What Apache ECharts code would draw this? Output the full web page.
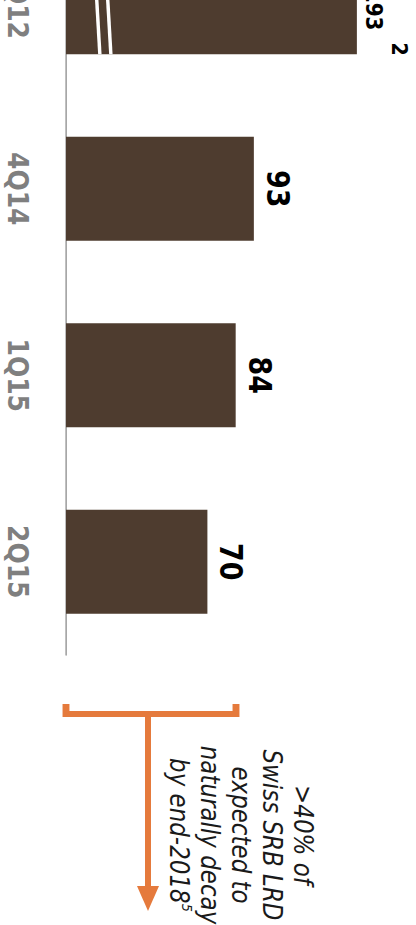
<!DOCTYPE html>
<html>
<head>
<meta charset="utf-8">
<title>Swiss SRB LRD</title>
<script src="https://cdn.jsdelivr.net/npm/echarts@6/dist/echarts.min.js"></script>
<style>
    html, body { margin: 0; padding: 0; background: #fff; overflow: hidden; }
    body { width: 416px; height: 925px; position: relative; }
    #chart { position: absolute; left: 0; top: -91px; height: 1016px; transform-origin: 0 0; }
</style>
</head>
<body>
<div id="chart"></div>
<script>
// data
const categories = [ '4Q12', '4Q14', '1Q15', '2Q15' ];
// bar lengths as drawn; 4Q12 sits on a broken scale so it is shorter than its label
const barValues = [ 144, 93, 84, 70 ];
const valueLabels = [ '193', '93', '84', '70' ];
const footnotes = [ '2', '', '', '' ];
const breakCategories = [ '4Q12' ];
const breakValues = [ 18 ];
const noteLines = [ '>40% of', 'Swiss SRB LRD', 'expected to', 'naturally decay', 'by end-2018' ];
const noteFootnote = '5';

// the slide is stretched a bit across, and its top is cut off
const SX = 1.15;
const TOP_CROP = 91;
const FONT = '"DejaVu Sans", Verdana, sans-serif';
const ORANGE = '#E57A3C';
const ix = x => x / SX;
const iy = y => y + TOP_CROP;

const chartContext = {
    draw() {
        const el = document.getElementById( 'chart' );
        el.style.width = ( 416 / SX ) + 'px';
        el.style.transform = 'scaleX(' + SX + ')';
        const chart = echarts.init( el, null, { renderer: 'svg' } );

        const option = {
            animation: false,
            grid: { left: ix( 66 ), top: 0, width: ix( 160 * 2.02 ), height: 746 },
            xAxis: { type: 'value', min: 0, max: 160, show: false },
            yAxis: {
                type: 'category',
                data: categories,
                inverse: true,
                axisLine: { show: true, lineStyle: { color: '#9a9a9a', width: 1.3 } },
                axisTick: { show: false },
                axisLabel: {
                    rotate: -90, margin: 29, color: '#7f7f7f',
                    fontFamily: FONT, fontWeight: 'bold', fontSize: 25, lineHeight: 25
                }
            },
            series: [
                {
                    type: 'bar',
                    data: barValues,
                    barWidth: 104,
                    itemStyle: { color: '#4E3C2F' },
                    label: {
                        show: true, position: 'right', distance: 4.5, rotate: -90,
                        align: 'center', verticalAlign: 'bottom',
                        formatter: p => footnotes[p.dataIndex]
                            ? '{v|' + valueLabels[p.dataIndex] + '}{s|' + footnotes[p.dataIndex] + '}'
                            : '{n|' + valueLabels[p.dataIndex] + '}',
                        rich: {
                            n: { fontFamily: FONT, fontWeight: 'bold', fontSize: 27, lineHeight: 32, color: '#000' },
                            v: { fontFamily: FONT, fontWeight: 'bold', fontSize: 20, lineHeight: 42, color: '#000', verticalAlign: 'bottom', padding: [ 0, 0, 0, 40 ] },
                            s: { fontFamily: FONT, fontWeight: 'bold', fontSize: 19, lineHeight: 14, color: '#000', verticalAlign: 'top', padding: [ 0, 0, 0, 12 ] }
                        }
                    }
                },
                {
                    // scale break marks on the long bar
                    type: 'custom',
                    data: breakCategories.map( ( c, i ) => [ breakValues[i], c ] ),
                    encode: { x: 0, y: 1 },
                    z: 5,
                    renderItem( params, api ) {
                        const p = api.coord( [ api.value( 0 ), api.value( 1 ) ] );
                        const h = 104;
                        return {
                            type: 'group',
                            children: [ -5.5, 5.5 ].map( off => ( {
                                type: 'line',
                                shape: {
                                    x1: p[0] + ix( off - 3 ), y1: p[1] - h / 2,
                                    x2: p[0] + ix( off + 3 ), y2: p[1] + h / 2
                                },
                                style: { stroke: '#fff', lineWidth: 3 }
                            } ) )
                        };
                    }
                }
            ],
            graphic: [
                {
                    type: 'polyline',
                    shape: { points: [ [ ix( 66 ), iy( 704 ) ], [ ix( 66 ), iy( 714 ) ], [ ix( 236 ), iy( 714 ) ], [ ix( 236 ), iy( 704 ) ] ] },
                    style: { stroke: ORANGE, lineWidth: 6, fill: null, lineJoin: 'miter' }
                },
                {
                    type: 'line',
                    shape: { x1: ix( 148 ), y1: iy( 714 ), x2: ix( 148 ), y2: iy( 890 ) },
                    style: { stroke: ORANGE, lineWidth: ix( 6 ) }
                },
                {
                    type: 'polygon',
                    shape: { points: [ [ ix( 137 ), iy( 886 ) ], [ ix( 159 ), iy( 886 ) ], [ ix( 148 ), iy( 911 ) ] ] },
                    style: { fill: ORANGE }
                },
                {
                    type: 'text',
                    x: ix( 241 ), y: iy( 835 ),
                    rotation: -Math.PI / 2,
                    style: {
                        text: noteLines.join( '\n' ) + '{s|' + noteFootnote + '}',
                        fontFamily: FONT, fontStyle: 'italic', fontSize: 23, lineHeight: 27,
                        fill: '#1a1a1a', align: 'center', verticalAlign: 'middle',
                        rich: {
                            s: { fontFamily: FONT, fontStyle: 'italic', fontSize: 13, lineHeight: 27, verticalAlign: 'top', fill: '#1a1a1a' }
                        }
                    }
                }
            ]
        };
        chart.setOption( option );
    }
};

!(function () {
    document.addEventListener( "DOMContentLoaded", function () {
        Object.values( chartContext ).forEach( f => f() );
    } );
})();
</script>
</body>
</html>
